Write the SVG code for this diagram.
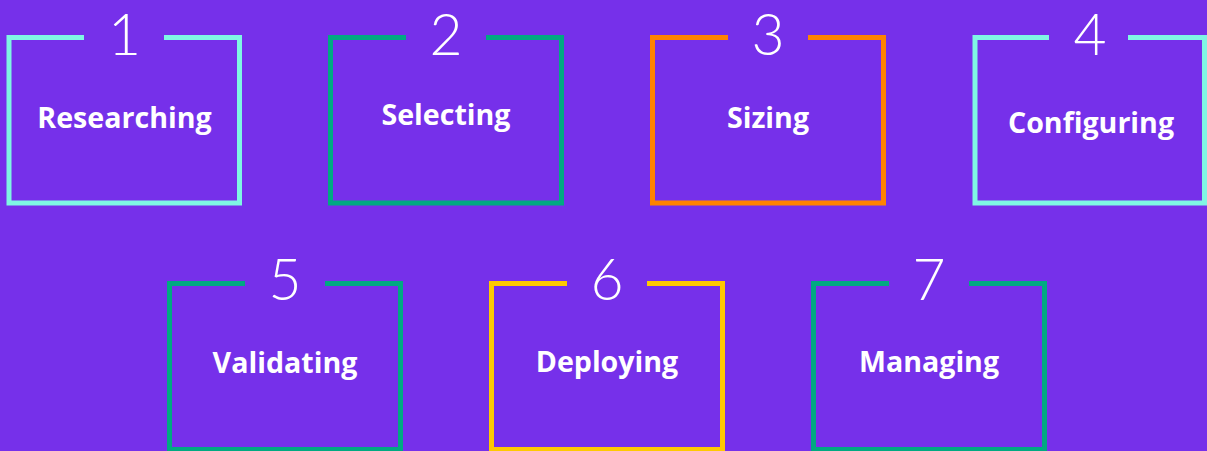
<svg xmlns="http://www.w3.org/2000/svg" width="1207" height="451" viewBox="0 0 1207 451">
<style>
.f{fill:none;stroke-width:5;stroke-linecap:butt;stroke-linejoin:miter}
.cy{stroke:#7FF6E4}
.gr{stroke:#01A982}
.or{stroke:#FF8300}
.ye{stroke:#FEC901}
.num{font-family:Lato,"Open Sans","Liberation Sans",sans-serif;font-weight:300;font-size:57px;fill:#FFFFFF;text-anchor:middle}
.lbl{font-family:"Open Sans","Liberation Sans",sans-serif;font-weight:700;font-size:28.6px;fill:#FFFFFF;text-anchor:middle}
</style>
<rect x="0" y="0" width="1207" height="451" fill="#7630EA"/>
<g id="node1">
<path class="f cy" d="M84 37.5H9V203H239.5V37.5H164"/>
<text class="num" x="124.5" y="55">1</text>
<text class="lbl" x="124.5" y="128">Researching</text>
</g>
<g id="node2">
<path class="f gr" d="M406 37.5H330.5V203H561.5V37.5H486"/>
<text class="num" x="446" y="55">2</text>
<text class="lbl" x="446" y="125">Selecting</text>
</g>
<g id="node3">
<path class="f or" d="M728 37.5H652.5V203H883.5V37.5H808"/>
<text class="num" x="768" y="55">3</text>
<text class="lbl" x="768" y="128">Sizing</text>
</g>
<g id="node4">
<path class="f cy" d="M1049 37.5H975V203H1204.5V37.5H1128"/>
<text class="num" x="1090" y="55">4</text>
<text class="lbl" x="1091" y="133">Configuring</text>
</g>
<g id="node5">
<path class="f gr" d="M245 283.5H169.5V449.5H400.5V283.5H325"/>
<text class="num" x="285" y="300">5</text>
<text class="lbl" x="285" y="373">Validating</text>
</g>
<g id="node6">
<path class="f ye" d="M567 283.5H491.5V449.5H722.5V283.5H647"/>
<text class="num" x="607" y="300">6</text>
<text class="lbl" x="607" y="372">Deploying</text>
</g>
<g id="node7">
<path class="f gr" d="M889 283.5H813.5V449.5H1044.5V283.5H969"/>
<text class="num" x="929" y="300">7</text>
<text class="lbl" x="929" y="372">Managing</text>
</g>
<g id="connectors"></g>
</svg>
